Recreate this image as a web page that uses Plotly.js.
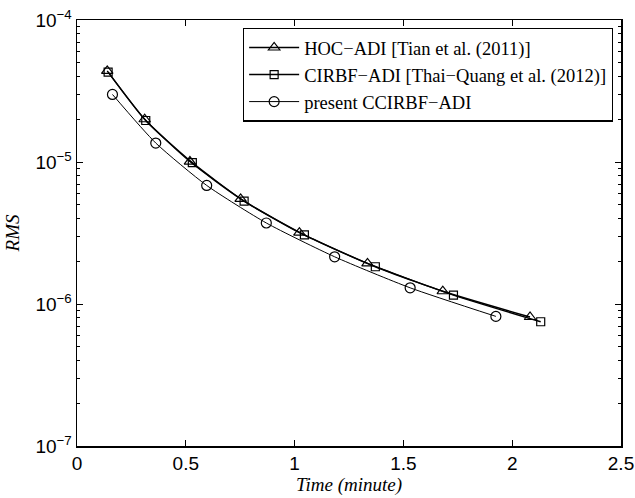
<!DOCTYPE html>
<html>
<head>
<meta charset="utf-8">
<script src="https://cdn.plot.ly/plotly-3.0.1.min.js"></script>
<style>html,body{margin:0;padding:0;background:#fff;}#chart{width:635px;height:498px;}</style>
</head>
<body>
<div id="chart"></div>
<script>
// Data
const hocTime = [0.139, 0.311, 0.519, 0.752, 1.022, 1.335, 1.681, 2.082];
const hocRms  = [4.38e-5, 2.0e-5, 1.007e-5, 5.5e-6, 3.18e-6, 1.93e-6, 1.23e-6, 8.1e-7];

const cirbfTime = [0.143, 0.316, 0.530, 0.768, 1.045, 1.371, 1.730, 2.131];
const cirbfRms  = [4.3e-5, 1.96e-5, 9.9e-6, 5.3e-6, 3.07e-6, 1.83e-6, 1.156e-6, 7.5e-7];

const ccTime = [0.163, 0.362, 0.596, 0.870, 1.184, 1.531, 1.925];
const ccRms  = [2.99e-5, 1.36e-5, 6.84e-6, 3.72e-6, 2.15e-6, 1.30e-6, 8.18e-7];

const seriesNames = ['HOC\u2212ADI [Tian et al. (2011)]', 'CIRBF\u2212ADI [Thai\u2212Quang et al. (2012)]', 'present CCIRBF\u2212ADI'];
const xTickVals = [0, 0.5, 1, 1.5, 2, 2.5];
const xTickText = ['0', '0.5', '1', '1.5', '2', '2.5'];
const yTickVals = [1e-7, 1e-6, 1e-5, 1e-4];
const yTickText = ['10<sup>\u22127</sup>', '10<sup>\u22126</sup>', '10<sup>\u22125</sup>', '10<sup>\u22124</sup>'];

const lineStyle = {color: '#000', width: 1.4, shape: 'spline', smoothing: 0.6};
const traces = [
  {x: hocTime, y: hocRms, name: seriesNames[0], mode: 'lines+markers', line: lineStyle,
   marker: {symbol: 'triangle-up-open', size: 10, color: '#000', line: {width: 1.2, color: '#000'}}},
  {x: cirbfTime, y: cirbfRms, name: seriesNames[1], mode: 'lines+markers', line: lineStyle,
   marker: {symbol: 'square-open', size: 8, color: '#000', line: {width: 1.2, color: '#000'}}},
  {x: ccTime, y: ccRms, name: seriesNames[2], mode: 'lines+markers', line: {color: '#000', width: 1, shape: 'spline', smoothing: 0.6},
   marker: {symbol: 'circle-open', size: 10, color: '#000', line: {width: 1.2, color: '#000'}}}
];

const layout = {
  width: 635, height: 498,
  margin: {l: 76.5, r: 14, t: 19.5, b: 52, pad: 0},
  paper_bgcolor: '#fff', plot_bgcolor: '#fff',
  showlegend: true,
  legend: {
    x: 0.985, y: 0.982, xanchor: 'right', yanchor: 'top',
    bgcolor: '#fff', bordercolor: '#000', borderwidth: 1.3,
    font: {family: 'Liberation Serif, Times New Roman, serif', size: 18.5, color: '#000'},
    tracegroupgap: 0, itemwidth: 50
  },
  xaxis: {
    range: [0, 2.5], tickmode: 'array', tickvals: xTickVals, ticktext: xTickText,
    ticks: 'inside', ticklen: 6, tickwidth: 1, tickcolor: '#000',
    showline: true, linecolor: '#000', linewidth: 1.5, mirror: 'ticks',
    showgrid: false, zeroline: false,
    tickfont: {family: 'Liberation Sans, Arial, sans-serif', size: 19, color: '#000'},
    title: {text: 'Time (minute)', font: {family: 'Liberation Serif, Times New Roman, serif', size: 19, color: '#000', style: 'italic'}, standoff: 0}
  },
  yaxis: {
    type: 'log', range: [-7, -4], tickmode: 'array', tickvals: yTickVals, ticktext: yTickText,
    ticks: 'inside', ticklen: 6, tickwidth: 1, tickcolor: '#000',
    showline: true, linecolor: '#000', linewidth: 1.5, mirror: 'ticks',
    showgrid: false, zeroline: false,
    minor: {ticks: 'inside', ticklen: 3, tickwidth: 1, tickcolor: '#000', showgrid: false, dtick: 'D1'},
    tickfont: {family: 'Liberation Sans, Arial, sans-serif', size: 19, color: '#000'},
    title: {text: 'RMS', font: {family: 'Liberation Serif, Times New Roman, serif', size: 19, color: '#000', style: 'italic'}, standoff: 10}
  }
};

Plotly.newPlot('chart', traces, layout, {displayModeBar: false, staticPlot: true});
</script>
</body>
</html>
